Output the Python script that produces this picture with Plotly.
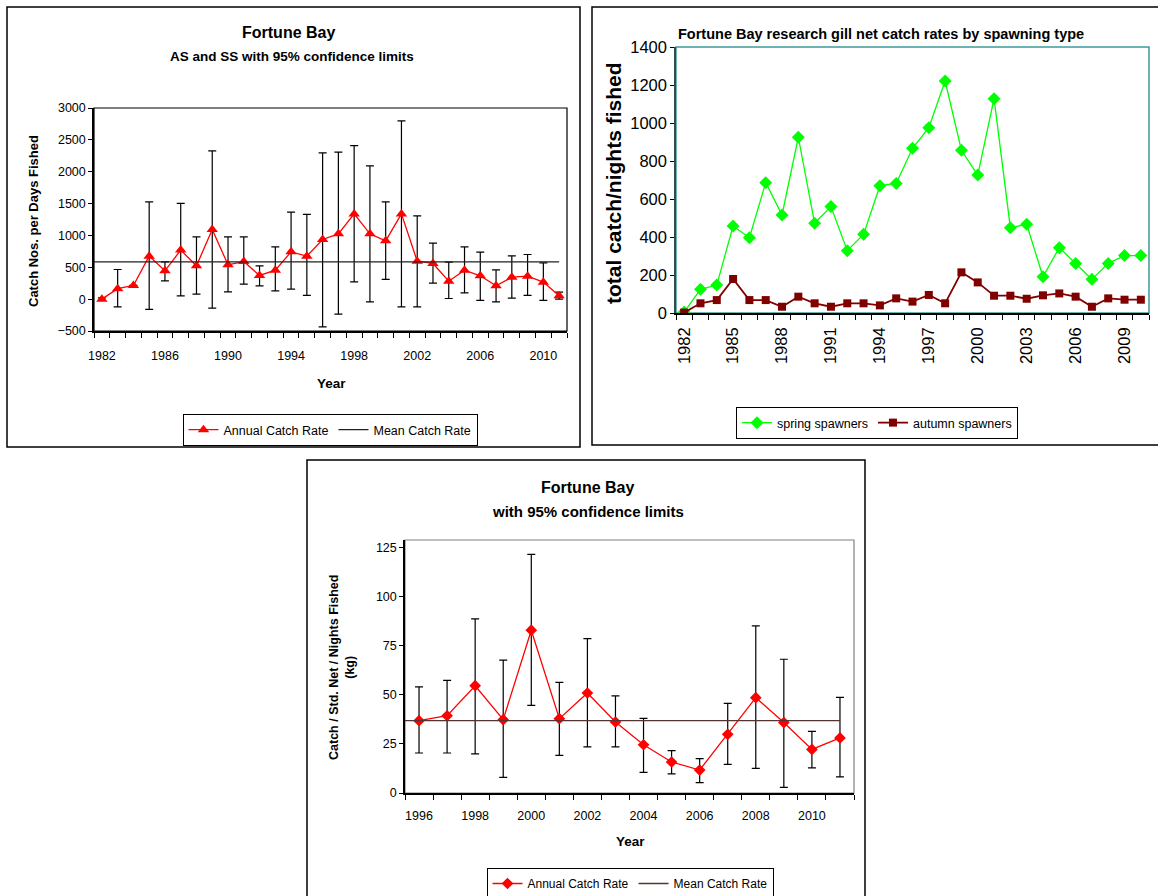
import numpy as np
import plotly.graph_objects as go

W, H = 1158, 896

# ---------------- Data ----------------
# Chart 1: Fortune Bay, AS and SS
YEARS1 = list(range(1982, 2012))
RATE1 = [0, 165, 215, 675, 445, 770, 523, 1093, 538, 591, 372, 455, 742, 675, 937,
         1025, 1338, 1025, 915, 1338, 596, 560, 282, 455, 366, 209, 345, 361, 267, 52]
UPPER1 = [20, 465, 215, 1527, 585, 1502, 977, 2327, 977, 977, 523, 821, 1365, 1329, 2295,
          2306, 2411, 2092, 1527, 2797, 1307, 878, 580, 821, 737, 460, 680, 701, 570, 110]
LOWER1 = [-20, -120, 215, -162, 287, 52, 78, -141, 115, 235, 209, 130, 157, 58, -434,
          -235, 271, -42, 309, -120, -120, 251, 10, 99, -20, -42, 16, 58, -20, 0]
MEAN1 = 585
X1_TICKS = list(range(1982, 2011, 4))

# Chart 2: research gill net catch rates by spawning type
YEARS2 = list(range(1982, 2011))
SPRING = [5, 125, 147, 458, 396, 686, 516, 925, 472, 560, 328, 414, 670, 682, 867,
          975, 1221, 856, 726, 1128, 449, 467, 191, 344, 261, 177, 261, 302, 302]
AUTUMN = [2, 51, 68, 179, 68, 68, 33, 86, 51, 33, 51, 51, 40, 77, 60,
          95, 51, 214, 161, 91, 91, 75, 93, 103, 86, 33, 77, 70, 70]
X2_TICKS = list(range(1982, 2010, 3))

# Chart 3: Fortune Bay with 95% confidence limits (kg)
YEARS3 = list(range(1996, 2012))
RATE3 = [36.9, 39.4, 54.7, 37.4, 83.0, 37.9, 51.0, 36.2, 24.6, 15.8, 11.7, 29.9, 48.6, 35.9, 22.2, 28.1]
UPPER3 = [54.1, 57.4, 88.8, 67.7, 121.7, 56.4, 78.7, 49.5, 38.1, 21.6, 17.5, 45.7, 85.2, 68.2, 31.4, 48.8]
LOWER3 = [20.4, 20.4, 19.9, 8.0, 44.7, 19.2, 23.5, 23.5, 10.5, 9.8, 5.3, 14.6, 12.6, 2.9, 12.8, 8.2]
MEAN3 = 36.9
X3_TICKS = list(range(1996, 2011, 2))

FONT = "Liberation Sans, Arial, sans-serif"


def fx(px):
    return px / W


def fy(py):
    return 1 - py / H


def errs(rate, up, lo):
    r = np.array(rate, dtype=float)
    return (np.array(up, dtype=float) - r).tolist(), (r - np.array(lo, dtype=float)).tolist()


fig = go.Figure()

# ---- Chart 1 ----
p1, m1 = errs(RATE1, UPPER1, LOWER1)
fig.add_trace(go.Scatter(
    x=YEARS1, y=RATE1, mode="lines+markers", name="Annual Catch Rate",
    line=dict(color="#ff0000", width=1.3),
    marker=dict(symbol="triangle-up", size=10, color="#ff0000"),
    error_y=dict(type="data", array=p1, arrayminus=m1, color="black", thickness=1.2, width=4),
    xaxis="x", yaxis="y", legend="legend"))
fig.add_trace(go.Scatter(
    x=[YEARS1[0] - 0.5, YEARS1[-1]], y=[MEAN1, MEAN1], mode="lines", name="Mean Catch Rate",
    line=dict(color="#202020", width=1.3), xaxis="x", yaxis="y", legend="legend"))

# ---- Chart 2 ----
fig.add_trace(go.Scatter(
    x=YEARS2, y=SPRING, mode="lines+markers", name="spring spawners",
    line=dict(color="#00ff00", width=1.3),
    marker=dict(symbol="diamond", size=10, color="#00ff00"),
    xaxis="x2", yaxis="y2", legend="legend2"))
fig.add_trace(go.Scatter(
    x=YEARS2, y=AUTUMN, mode="lines+markers", name="autumn spawners",
    line=dict(color="#800000", width=1.8),
    marker=dict(symbol="square", size=8, color="#800000"),
    xaxis="x2", yaxis="y2", legend="legend2"))

# ---- Chart 3 ----
p3, m3 = errs(RATE3, UPPER3, LOWER3)
fig.add_trace(go.Scatter(
    x=YEARS3, y=RATE3, mode="lines+markers", name="Annual Catch Rate",
    line=dict(color="#ff0000", width=1.3),
    marker=dict(symbol="diamond", size=9, color="#ff0000"),
    error_y=dict(type="data", array=p3, arrayminus=m3, color="black", thickness=1.2, width=4),
    xaxis="x3", yaxis="y3", legend="legend3"))
fig.add_trace(go.Scatter(
    x=[YEARS3[0] - 0.5, YEARS3[-1]], y=[MEAN3, MEAN3], mode="lines", name="Mean Catch Rate",
    line=dict(color="#553333", width=1.3), xaxis="x3", yaxis="y3", legend="legend3"))


def xaxis_cfg(domain, years, tickvals, ticklen, angle=0, size=12.5, anchor="y"):
    return dict(
        domain=domain, anchor=anchor, range=[years[0] - 0.5, years[-1] + 0.5],
        tickmode="array", tickvals=tickvals, ticktext=[str(v) for v in tickvals],
        ticks="outside", ticklen=ticklen, tickcolor="rgba(0,0,0,0)", tickangle=angle,
        tickfont=dict(family=FONT, size=size, color="black"),
        showgrid=False, zeroline=False, showline=True, linecolor="black", linewidth=1.5,
        minor=dict(tickmode="array", tickvals=[y - 0.5 for y in years] + [years[-1] + 0.5],
                   ticks="outside", ticklen=5, tickcolor="black", tickwidth=1, showgrid=False),
        fixedrange=True, automargin=False)


def yaxis_cfg(domain, rng, dtick, size=12.5, anchor="x", linecolor="black"):
    return dict(
        domain=domain, anchor=anchor, range=rng, dtick=dtick, tick0=0,
        ticks="outside", ticklen=4, tickcolor="black",
        tickfont=dict(family=FONT, size=size, color="black"),
        showgrid=False, zeroline=False, showline=True, linecolor=linecolor, linewidth=1.5,
        fixedrange=True, automargin=False)


legend_common = dict(orientation="h", xanchor="center", yanchor="top",
                     bordercolor="black", borderwidth=1, bgcolor="white",
                     font=dict(family=FONT, size=12.5, color="black"),
                     tracegroupgap=0, itemwidth=30)

fig.update_layout(
    width=W, height=H, margin=dict(l=0, r=0, t=0, b=0, pad=0, autoexpand=False),
    paper_bgcolor="white", plot_bgcolor="white",
    font=dict(family=FONT, color="black"),
    xaxis=xaxis_cfg([fx(94), fx(567)], YEARS1, X1_TICKS, 12, anchor="y"),
    yaxis=yaxis_cfg([fy(331), fy(108)], [-500, 3000], 500, anchor="x"),
    xaxis2=xaxis_cfg([fx(676), fx(1149)], YEARS2, X2_TICKS, 6, angle=-90, size=16.5, anchor="y2"),
    yaxis2=yaxis_cfg([fy(313), fy(47)], [0, 1400], 200, size=16.5, anchor="x2", linecolor="#2f4f4f"),
    xaxis3=xaxis_cfg([fx(405), fx(854)], YEARS3, X3_TICKS, 10, anchor="y3"),
    yaxis3=yaxis_cfg([fy(793), fy(540)], [0, 129], 25, anchor="x3"),
    legend=dict(legend_common, x=fx(330), y=fy(414)),
    legend2=dict(legend_common, x=fx(877), y=fy(407)),
    legend3=dict(legend_common, x=fx(630), y=fy(868), font=dict(family=FONT, size=12, color="black")),
)

shapes = [
    # outer chart boxes
    dict(type="rect", xref="paper", yref="paper", x0=fx(7), x1=fx(580), y0=fy(447), y1=fy(7),
         line=dict(color="black", width=1.5)),
    dict(type="rect", xref="paper", yref="paper", x0=fx(592), x1=fx(1164), y0=fy(445), y1=fy(7),
         line=dict(color="black", width=1.5)),
    dict(type="rect", xref="paper", yref="paper", x0=fx(307), x1=fx(865), y0=fy(902), y1=fy(460),
         line=dict(color="black", width=1.5)),
    # plot-area frames
    dict(type="rect", xref="x domain", yref="y domain", x0=0, x1=1, y0=0, y1=1,
         line=dict(color="black", width=1.2), layer="below"),
    dict(type="rect", xref="x2 domain", yref="y2 domain", x0=0, x1=1, y0=0, y1=1,
         line=dict(color="#3f9a9a", width=1.5), layer="below"),
    dict(type="rect", xref="x3 domain", yref="y3 domain", x0=0, x1=1, y0=0, y1=1,
         line=dict(color="#808080", width=1.2), layer="below"),
]

ann = [
    dict(text="<b>Fortune Bay</b>", x=fx(288), y=fy(33), size=16),
    dict(text="<b>AS and SS with 95% confidence limits</b>", x=fx(292), y=fy(56), size=13.5),
    dict(text="<b>Catch Nos. per Days Fished</b>", x=fx(33), y=fy(221), size=13, angle=-90),
    dict(text="<b>Year</b>", x=fx(331), y=fy(383), size=13.5),
    dict(text="<b>Fortune Bay research gill net catch rates by spawning type</b>", x=fx(676),
         y=fy(34), size=14.5, xanchor="left"),
    dict(text="<b>total catch/nights fished</b>", x=fx(614), y=fy(183), size=21, angle=-90),
    dict(text="<b>Fortune Bay</b>", x=fx(587), y=fy(487), size=16),
    dict(text="<b>with 95% confidence limits</b>", x=fx(588), y=fy(511), size=15),
    dict(text="<b>Catch / Std. Net / Nights Fished<br>(kg)</b>", x=fx(342), y=fy(668), size=12.5,
         angle=-90),
    dict(text="<b>Year</b>", x=fx(630), y=fy(841), size=13.5),
]
annotations = []
for a in ann:
    annotations.append(dict(
        text=a["text"], x=a["x"], y=a["y"], xref="paper", yref="paper",
        xanchor=a.get("xanchor", "center"), yanchor="middle", showarrow=False,
        textangle=a.get("angle", 0), font=dict(family=FONT, size=a["size"], color="black")))

fig.update_layout(shapes=shapes, annotations=annotations)

fig.write_html("out.html")
